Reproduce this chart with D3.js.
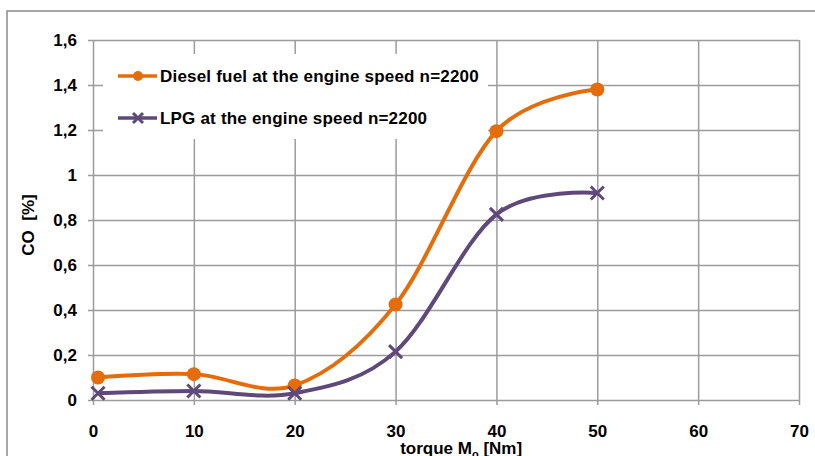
<!DOCTYPE html>
<html>
<head>
<meta charset="utf-8">
<script src="https://cdn.jsdelivr.net/npm/d3@7"></script>
<style>
  body { margin: 0; background: #fff; }
  svg text { font-family: "Liberation Sans", Arial, sans-serif; font-weight: bold; fill: #000; }
  .grid line { stroke: #9c9c9c; stroke-width: 1.5; }
  .grid path { display: none; }
</style>
</head>
<body>
<div id="chart"></div>
<script>
// chart data
var torque = [0.5, 10, 20, 30, 40, 50];
var diesel = [0.10, 0.115, 0.065, 0.425, 1.195, 1.38];
var lpg = [0.03, 0.04, 0.03, 0.215, 0.825, 0.92];
var xTicks = [0, 10, 20, 30, 40, 50, 60, 70];
var yTicks = [0, 0.2, 0.4, 0.6, 0.8, 1, 1.2, 1.4, 1.6];
var seriesNames = ["Diesel fuel at the engine speed n=2200", "LPG at the engine speed n=2200"];

var orange = "#e46c0a", purple = "#5f497a";

var W = 815, H = 456;
var margin = {top: 40, right: 16, bottom: 56, left: 93},
  width = W - margin.left - margin.right,
  height = H - margin.top - margin.bottom;

var svg = d3.select("#chart").append("svg")
  .attr("width", W).attr("height", H);

// outer chart border (runs off the right/bottom edge)
svg.append("rect")
  .attr("x", 7).attr("y", 11)
  .attr("width", W).attr("height", H)
  .attr("fill", "none").attr("stroke", "#8a8a8a").attr("stroke-width", 1.5);

var g = svg.append("g")
  .attr("transform", "translate(" + margin.left + "," + margin.top + ")");

var x = d3.scaleLinear().domain([0, 70]).range([0, width]);
var y = d3.scaleLinear().domain([0, 1.6]).range([height, 0]);

var fmt = function(d) { return d3.format("~g")(d).replace(".", ","); };

// horizontal grid + y ticks (ticks poke 5px left of the axis)
g.append("g")
  .attr("class", "grid")
  .attr("transform", "translate(-5,0)")
  .call(d3.axisLeft(y).tickValues(yTicks).tickFormat(fmt)
    .tickSize(-(width + 5)).tickPadding(11))
  .selectAll("text")
    .style("font-size", "17px");

// vertical grid + x ticks
g.append("g")
  .attr("class", "grid")
  .attr("transform", "translate(0," + (height + 5) + ")")
  .call(d3.axisBottom(x).tickValues(xTicks).tickFormat(fmt)
    .tickSize(-(height + 5)).tickPadding(20))
  .selectAll("text")
    .style("font-size", "17px");

// axis titles
var xt = svg.append("text")
  .attr("x", margin.left + x(36.5)).attr("y", 454)
  .attr("text-anchor", "middle")
  .style("font-size", "17px");
xt.append("tspan").text("torque M");
xt.append("tspan").attr("dy", 4).style("font-size", "11px").text("o");
xt.append("tspan").attr("dy", -4).text(" [Nm]");

svg.append("text")
  .attr("transform", "translate(34,225) rotate(-90)")
  .attr("text-anchor", "middle")
  .style("font-size", "17px")
  .style("white-space", "pre")
  .text("CO  [%]");

// legend background hides grid behind it
var legend = g.append("g");
legend.append("rect")
  .attr("x", 10).attr("y", 14)
  .attr("width", 385).attr("height", 85)
  .attr("fill", "#fff");

var line = d3.line()
  .x(function(d) { return x(d[0]); })
  .y(function(d) { return y(d[1]); })
  .curve(d3.curveCardinal.tension(0));

var series = [
  {name: seriesNames[0], values: d3.zip(torque, diesel), color: orange, marker: "circle"},
  {name: seriesNames[1], values: d3.zip(torque, lpg), color: purple, marker: "cross"}
];

function drawMarker(sel, s, cx, cy, r) {
  if (s.marker === "circle") {
    sel.append("circle").attr("cx", cx).attr("cy", cy).attr("r", r)
      .attr("fill", s.color);
  } else {
    sel.append("path")
      .attr("d", "M" + (cx - r) + "," + (cy - r) + "L" + (cx + r) + "," + (cy + r) +
        "M" + (cx - r) + "," + (cy + r) + "L" + (cx + r) + "," + (cy - r))
      .attr("stroke", s.color).attr("stroke-width", 3).attr("fill", "none");
  }
}

series.forEach(function(s, i) {
  g.append("path")
    .datum(s.values)
    .attr("d", line)
    .attr("fill", "none")
    .attr("stroke", s.color)
    .attr("stroke-width", 4);

  s.values.forEach(function(d) {
    drawMarker(g, s, x(d[0]), y(d[1]), s.marker === "circle" ? 7 : 6.5);
  });

  // legend entry
  var ly = 36 + i * 42;
  legend.append("line")
    .attr("x1", 25).attr("x2", 64).attr("y1", ly).attr("y2", ly)
    .attr("stroke", s.color).attr("stroke-width", 3.5);
  drawMarker(legend, s, 45, ly, 5);
  legend.append("text")
    .attr("x", 67).attr("y", ly + 6)
    .style("font-size", "17px")
    .style("letter-spacing", "0.2px")
    .text(s.name);
});
</script>
</body>
</html>
